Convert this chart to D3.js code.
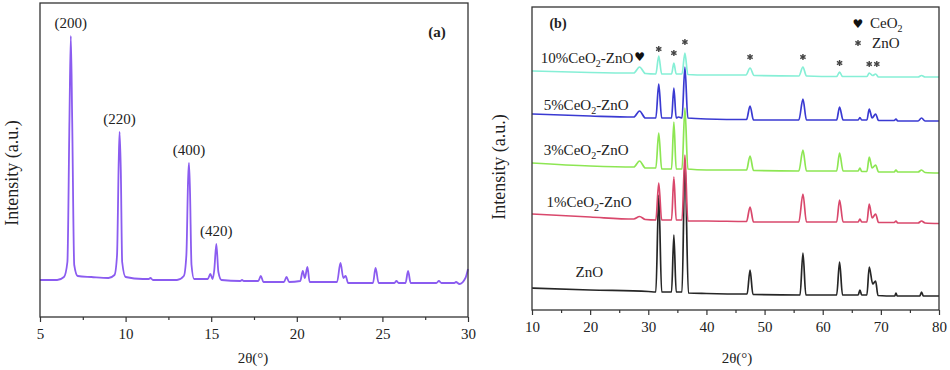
<!DOCTYPE html>
<html>
<head>
<meta charset="utf-8">
<script src="https://cdn.jsdelivr.net/npm/d3@7"></script>
<style>
  body { margin: 0; background: #fff; }
  svg text { font-family: "Liberation Serif", "DejaVu Serif", serif; fill: #222; }
</style>
</head>
<body>
<script>
"use strict";

var width = 950,
    height = 370;

// ---- panel (a): [2theta, intensity] ----
const patternA = [
  [5.0, 37], [6.0, 37], [6.4, 40], [6.6, 55], [6.72, 197], [6.8, 281], [6.88, 197], [7.0, 52],
  [7.2, 41], [8.0, 40], [9.0, 39], [9.35, 42], [9.5, 62], [9.6, 157], [9.65, 185], [9.72, 147],
  [9.8, 55], [10.0, 40], [11.0, 38], [11.35, 38], [11.45, 39], [11.6, 37], [13.0, 37], [13.4, 41],
  [13.55, 62], [13.65, 137], [13.7, 154], [13.76, 127], [13.85, 52], [14.0, 38], [14.8, 38],
  [14.95, 43], [15.08, 38], [15.18, 47], [15.3, 73], [15.42, 45], [15.6, 37], [16.7, 36],
  [16.8, 37], [16.9, 36], [17.75, 36], [17.9, 41], [18.05, 35], [19.25, 35], [19.4, 40],
  [19.55, 35], [20.2, 36], [20.35, 46], [20.47, 39], [20.62, 50], [20.75, 35], [22.35, 35],
  [22.55, 54], [22.72, 39], [22.85, 41], [23.0, 34], [24.45, 34], [24.6, 49], [24.78, 34],
  [25.7, 34], [25.82, 36], [25.95, 34], [26.35, 34], [26.5, 46], [26.65, 34], [28.15, 34],
  [28.3, 36], [28.45, 34], [29.2, 34], [29.3, 35], [29.5, 33], [29.85, 39], [30.0, 48]
];
const peakLabelsA = ["(200)", "(220)", "(400)", "(420)"];
const peakPosA = [6.8, 9.65, 13.7, 15.3];
const peakTopA = [281, 185, 154, 73];
const ticksA = [5, 10, 15, 20, 25, 30];
const minorTicksA = [7.5, 12.5, 17.5, 22.5, 27.5];

// ---- panel (b): [2theta, intensity] ----
const seriesNames = ["ZnO", "1%CeO2-ZnO", "3%CeO2-ZnO", "5%CeO2-ZnO", "10%CeO2-ZnO"];
const seriesColors = ["#262626", "#d9486c", "#8de653", "#3a3ad2", "#86efd6"];
const znoPure = [
  [10, 22], [20, 20], [30, 18.5], [31.3, 18], [31.8, 115], [32.3, 18], [34.0, 18], [34.4, 75],
  [34.8, 18], [35.8, 18], [36.3, 150], [36.9, 17], [40, 16.5], [47, 16], [47.5, 40], [48, 15.5],
  [56.1, 15], [56.6, 57], [57.1, 15], [62.4, 15], [62.9, 48], [63.4, 15], [66.1, 15], [66.4, 20],
  [66.7, 15], [67.6, 15], [68, 43], [68.6, 26], [69.1, 29], [69.5, 14.5], [72.4, 14], [72.6, 17],
  [72.8, 14], [76.7, 14], [77, 18], [77.3, 14], [80, 14]
];
const ceo2Pct1 = [
  [10, 96], [20, 93], [27.5, 91], [28.5, 93.5], [29.5, 90.5], [31.3, 90], [31.8, 127], [32.3, 90],
  [34.0, 90], [34.4, 133], [34.8, 90], [35.8, 90], [36.3, 155], [36.8, 89], [40, 89], [46.9, 88.5],
  [47.5, 103], [48.1, 88], [55.9, 88], [56.6, 116], [57.2, 88], [62.4, 88], [62.9, 110], [63.5, 88],
  [66.1, 88], [66.4, 91], [66.7, 88], [67.6, 88], [68, 106], [68.5, 92], [69.1, 96], [69.6, 87.5],
  [72.3, 87.5], [72.6, 89], [72.9, 87], [76.4, 87], [77, 89], [77.6, 87], [80, 86.5]
];
const ceo2Pct3 = [
  [10, 147], [20, 144], [27.5, 143], [28.5, 149], [29.5, 142], [31.3, 142], [31.8, 177], [32.3, 141],
  [34.0, 141], [34.4, 188], [34.8, 141], [35.8, 141], [36.3, 202], [36.8, 141], [40, 140], [46.9, 140],
  [47.5, 154], [48.1, 139.5], [55.9, 139], [56.6, 160], [57.2, 139], [62.4, 139], [62.9, 157], [63.5, 139],
  [66.1, 139], [66.4, 142], [66.7, 138.5], [67.6, 138.5], [68, 153], [68.5, 142], [69.1, 145], [69.6, 138],
  [72.3, 138], [72.6, 140], [72.9, 138], [76.4, 138], [77, 140], [77.6, 137.5], [80, 137]
];
const ceo2Pct5 = [
  [10, 196], [20, 194], [27.5, 193], [28.5, 199], [29.5, 192], [31.3, 192], [31.8, 226], [32.3, 192],
  [33.5, 192], [34.0, 192], [34.4, 222], [34.8, 192], [35.2, 193], [35.8, 192], [36.3, 243], [36.8, 192],
  [40, 191], [46.9, 190.5], [47.5, 204], [48.1, 190], [55.9, 190], [56.6, 211], [57.2, 190], [62.4, 190],
  [62.9, 203], [63.5, 190], [66.1, 190], [66.4, 192.5], [66.7, 190], [67.6, 190], [68, 201], [68.5, 192],
  [69.1, 196], [69.6, 189.5], [72.3, 189.5], [72.6, 191], [72.9, 189], [76.4, 189], [77, 192], [77.6, 189],
  [80, 189]
];
const ceo2Pct10 = [
  [10, 239], [20, 237.5], [27.5, 237], [28.5, 243], [29.5, 236.5], [31.3, 236], [31.8, 254], [32.3, 236],
  [34.0, 236], [34.4, 247], [34.8, 236], [35.8, 236], [36.3, 257], [36.8, 235.5], [40, 235], [46.8, 235],
  [47.5, 242], [48.2, 234.5], [55.9, 234], [56.6, 243], [57.2, 234], [62.4, 233.5], [62.9, 238], [63.4, 233.5],
  [67.6, 233.5], [68, 237], [68.6, 234.5], [69.1, 236], [69.6, 233], [76.4, 233], [77, 234.5], [77.6, 233],
  [80, 233]
];
const labelY = [33, 103, 155, 200, 247];
const labelX = [17.5, 12.5, 12, 12, 11.5];
const starPos = [31.8, 34.4, 36.3, 47.5, 56.6, 62.9, 68.0, 69.3];
const starY = [261, 257, 268, 253, 253, 247, 246, 246];
const heartPos = 28.5;
const heartY = 254;
const ticksB = [10, 20, 30, 40, 50, 60, 70, 80];
const minorTicksB = [15, 25, 35, 45, 55, 65, 75];

window.onload = function () {
    const svg = d3.select("body").append("svg")
        .attr("width", width)
        .attr("height", height);

    // ================= panel (a) =================
    const boxA = { left: 40, right: 468, top: 3, bottom: 317 };
    const xA = d3.scaleLinear().domain([5, 30]).range([boxA.left, boxA.right]);
    const yA = d3.scaleLinear().domain([0, 314]).range([boxA.bottom, boxA.top]);
    const gA = svg.append("g").attr("id", "panelA");

    gA.append("path")
        .datum(patternA)
        .attr("fill", "none")
        .attr("stroke", "#8b5cf0")
        .attr("stroke-width", 1.8)
        .attr("stroke-linejoin", "round")
        .attr("d", d3.line().x(d => xA(d[0])).y(d => yA(d[1])).curve(d3.curveMonotoneX));

    drawFrame(gA, boxA);
    drawXAxis(gA, xA, boxA.bottom, ticksA, minorTicksA);

    gA.selectAll(".peaklab")
        .data(peakLabelsA)
        .enter().append("text")
        .attr("x", (d, i) => xA(peakPosA[i]))
        .attr("y", (d, i) => yA(peakTopA[i]) - 8)
        .attr("text-anchor", "middle")
        .attr("font-size", 15)
        .text(d => d);

    gA.append("text").attr("x", 437).attr("y", 37).attr("text-anchor", "middle")
        .attr("font-size", 15).attr("font-weight", "bold").text("(a)");
    gA.append("text").attr("x", 253).attr("y", 363).attr("text-anchor", "middle")
        .attr("font-size", 15).text("2θ(°)");
    gA.append("text")
        .attr("transform", "translate(18,173) rotate(-90)")
        .attr("text-anchor", "middle")
        .attr("font-size", 18)
        .text("Intensity (a.u.)");

    // ================= panel (b) =================
    const boxB = { left: 532, right: 939, top: 7, bottom: 310 };
    const xB = d3.scaleLinear().domain([10, 80]).range([boxB.left, boxB.right]);
    const yB = d3.scaleLinear().domain([0, 303]).range([boxB.bottom, boxB.top]);
    const gB = svg.append("g").attr("id", "panelB");
    const allSeries = [znoPure, ceo2Pct1, ceo2Pct3, ceo2Pct5, ceo2Pct10];

    gB.selectAll(".trace")
        .data(allSeries)
        .enter().append("path")
        .attr("class", "trace")
        .attr("fill", "none")
        .attr("stroke", (d, i) => seriesColors[i])
        .attr("stroke-width", 1.7)
        .attr("stroke-linejoin", "round")
        .attr("d", d3.line().x(d => xB(d[0])).y(d => yB(d[1])).curve(d3.curveMonotoneX));

    drawFrame(gB, boxB);
    drawXAxis(gB, xB, boxB.bottom, ticksB, minorTicksB);

    // series labels with subscript 2
    seriesNames.forEach(function (name, i) {
        const t = gB.append("text")
            .attr("x", xB(labelX[i]))
            .attr("y", yB(labelY[i]))
            .attr("font-size", 15);
        const parts = name.split("O2");
        if (parts.length > 1) {
            t.append("tspan").text(parts[0] + "O");
            t.append("tspan").attr("dy", 4).attr("font-size", 10).text("2");
            t.append("tspan").attr("dy", -4).text(parts[1]);
        } else {
            t.text(name);
        }
    });

    // phase markers
    const star = d3.symbol().type(d3.symbolAsterisk).size(26);
    gB.selectAll(".star")
        .data(starPos)
        .enter().append("path")
        .attr("class", "star")
        .attr("transform", (d, i) => "translate(" + xB(d) + "," + yB(starY[i]) + ")")
        .attr("d", star)
        .attr("fill", "none")
        .attr("stroke", "#444")
        .attr("stroke-width", 1.4);
    gB.append("text")
        .attr("x", xB(heartPos))
        .attr("y", yB(heartY) + 5)
        .attr("text-anchor", "middle")
        .style("font-family", "DejaVu Sans")
        .attr("font-size", 12)
        .style("fill", "#111")
        .text("♥");

    // legend
    gB.append("text").attr("x", 858).attr("y", 28).attr("text-anchor", "middle")
        .style("font-family", "DejaVu Sans").attr("font-size", 12).style("fill", "#111").text("♥");
    const leg1 = gB.append("text").attr("x", 870).attr("y", 28).attr("font-size", 15);
    leg1.append("tspan").text("CeO");
    leg1.append("tspan").attr("dy", 4).attr("font-size", 10).text("2");
    gB.append("path").attr("transform", "translate(858,43)").attr("d", star)
        .attr("fill", "none").attr("stroke", "#444").attr("stroke-width", 1.4);
    gB.append("text").attr("x", 872).attr("y", 48).attr("font-size", 15).text("ZnO");

    gB.append("text").attr("x", 558).attr("y", 28).attr("text-anchor", "middle")
        .attr("font-size", 14).attr("font-weight", "bold").text("(b)");
    gB.append("text").attr("x", 737).attr("y", 363).attr("text-anchor", "middle")
        .attr("font-size", 15).text("2θ(°)");
    gB.append("text")
        .attr("transform", "translate(505,167) rotate(-90)")
        .attr("text-anchor", "middle")
        .attr("font-size", 18)
        .text("Intensity (a.u.)");
}

function drawFrame(g, box) {
    g.append("rect")
        .attr("x", box.left)
        .attr("y", box.top)
        .attr("width", box.right - box.left)
        .attr("height", box.bottom - box.top)
        .attr("fill", "none")
        .attr("stroke", "#333")
        .attr("stroke-width", 1.3);
}

function drawXAxis(g, x, y, major, minor) {
    const ax = g.append("g")
        .attr("transform", "translate(0," + y + ")")
        .call(d3.axisBottom(x).tickValues(major).tickSize(5).tickSizeOuter(0).tickPadding(6).tickFormat(d3.format("d")));
    ax.attr("font-family", null);
    ax.select(".domain").remove();
    ax.selectAll("line").attr("stroke", "#333").attr("stroke-width", 1.2);
    ax.selectAll("text")
        .attr("font-size", 15)
        .style("fill", "#222");

    const mn = g.append("g")
        .attr("transform", "translate(0," + y + ")")
        .call(d3.axisBottom(x).tickValues(minor).tickSize(3).tickFormat(""));
    mn.select(".domain").remove();
    mn.selectAll("line").attr("stroke", "#333").attr("stroke-width", 1.2);
}
</script>
</body>
</html>
